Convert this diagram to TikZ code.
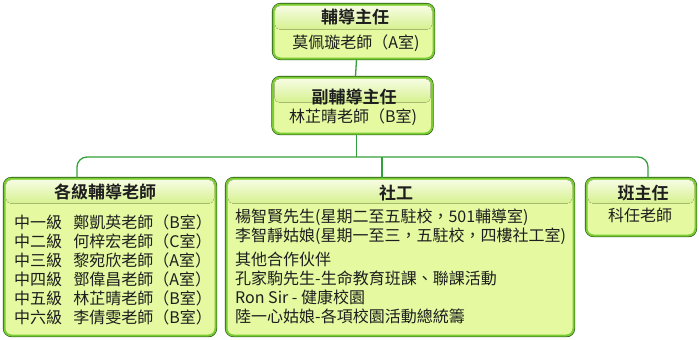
\documentclass[tikz,border=0pt]{standalone}
\usepackage{fontspec}
\setmainfont{Noto Sans CJK TC}[BoldFont={Noto Sans CJK TC Bold}]
\usetikzlibrary{shadows}
\definecolor{boxfill}{RGB}{228,249,160}
\definecolor{boxrim}{RGB}{122,204,52}
\definecolor{boxdark}{RGB}{38,84,18}
\definecolor{headtop}{RGB}{246,252,226}
\definecolor{headbot}{RGB}{214,241,142}
\definecolor{linkgreen}{RGB}{52,160,60}
\definecolor{ink}{RGB}{30,30,30}
\tikzset{
  orgbox/.style={rectangle, rounded corners=7pt, fill=boxfill, draw=boxrim,
    line width=2pt, inner sep=0pt,
    general shadow={fill=boxdark, shadow xshift=0.6pt, shadow yshift=-1.4pt},
    preaction={draw=boxdark, line width=3.2pt}},
  headband/.style={top color=headtop, bottom color=headbot, rounded corners=5pt},
  ttl/.style={inner sep=0pt, text=ink, font=\fontsize{17}{20}\selectfont\bfseries},
  txt/.style={inner sep=0pt, text=ink, font=\fontsize{16}{19}\selectfont},
  link/.style={draw=linkgreen, line width=1.3pt}
}
\begin{document}
\begin{tikzpicture}[x=1pt, y=-1pt]
\useasboundingbox (0,0) rectangle (699,340);
% boxes
\node[orgbox, minimum width=160pt, minimum height=54pt] (zhuren) at (353.5,31.5) {};
\node[orgbox, minimum width=159pt, minimum height=56pt] (fu) at (352.5,105.5) {};
\node[orgbox, minimum width=211pt, minimum height=157pt] (gelv) at (110,257) {};
\node[orgbox, minimum width=347pt, minimum height=157pt] (shegong) at (400,257) {};
\node[orgbox, minimum width=109pt, minimum height=57pt] (banzhu) at (641,207) {};
\foreach \b in {zhuren,fu,gelv,shegong,banzhu}
  \fill[headband] ([shift={(2.5pt,-2.5pt)}]\b.north west) rectangle ([shift={(-2.5pt,-26pt)}]\b.north east);
% connectors
\coordinate (bus) at (382,157);
\draw[link] ([xshift=3pt]zhuren.south) -- ([xshift=3pt]fu.north);
\draw[link] ([xshift=4pt]fu.south) -- ([xshift=4pt]fu.south |- bus);
\draw[link, rounded corners=10pt] ([xshift=-33pt]gelv.north) |- (bus) -| ([xshift=7pt]banzhu.north);
\draw[link] (bus) -- (bus |- shegong.north);
% texts
\node[ttl] (zhurenttl) at (355,17) {輔導主任};
\node[txt] (zhurenname) at (356,43) {莫佩璇老師（A室)};
\node[ttl] (futtl) at (354,97) {副輔導主任};
\node[txt] (funame) at (353,117) {林芷晴老師（B室)};
\node[ttl] (gelvttl) at (105,192) {各級輔導老師};
\node[txt, align=left, anchor=north west] (gelvlist) at (14,214.5) {%
  中一級\hspace{0.7em}鄭凱英老師（B室）\\
  中二級\hspace{0.7em}何梓宏老師（C室）\\
  中三級\hspace{0.7em}黎宛欣老師（A室）\\
  中四級\hspace{0.7em}鄧偉昌老師（A室）\\
  中五級\hspace{0.7em}林芷晴老師（B室）\\
  中六級\hspace{0.7em}李倩雯老師（B室）};
\node[ttl] (shegongttl) at (396,193) {社工};
\node[txt, align=left, anchor=north west] (shegonglist) at (235,208.5) {%
  楊智賢先生(星期二至五駐校，501輔導室)\\
  李智靜姑娘(星期一至三，五駐校，四樓社工室)\\[5pt]
  其他合作伙伴\\
  孔家駒先生-生命教育班課、聯課活動\\
  Ron Sir - 健康校園\\
  陸一心姑娘-各項校園活動總統籌};
\node[ttl] (banzhuttl) at (643,193) {班主任};
\node[txt] (banzhuname) at (640,215) {科任老師};
\end{tikzpicture}
\end{document}
